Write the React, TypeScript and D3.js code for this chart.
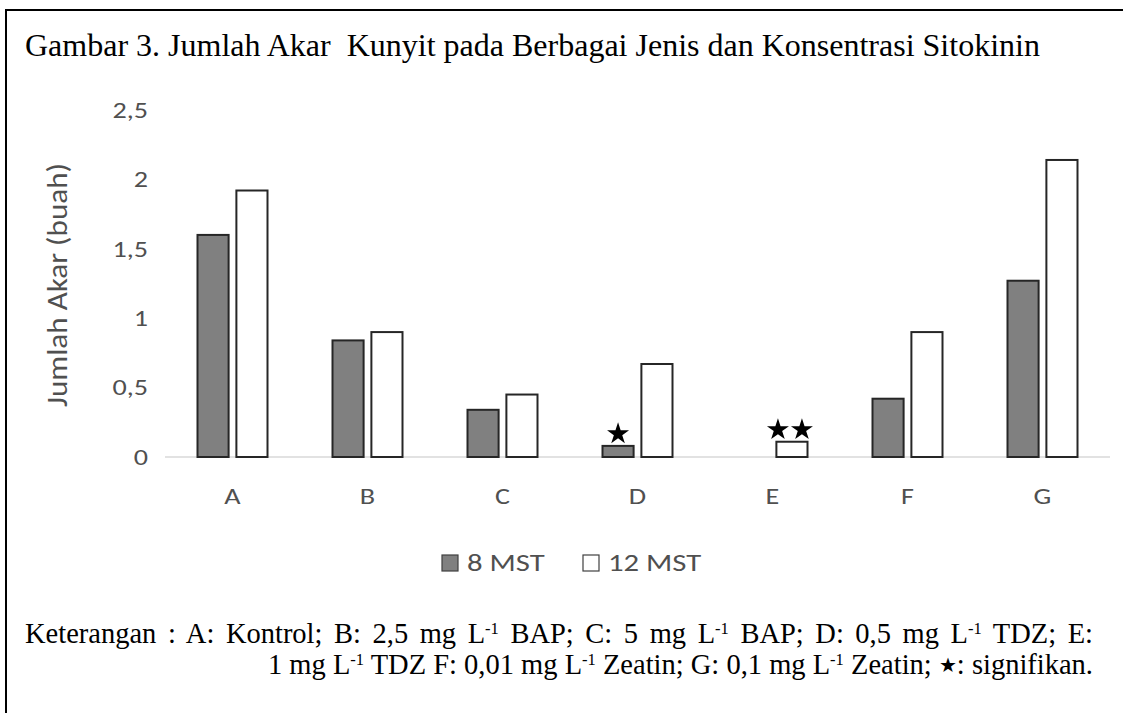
import { useEffect, useRef } from 'react';
import * as d3 from 'd3';

// perlakuan (treatments) on the x axis
const categories = ['A', 'B', 'C', 'D', 'E', 'F', 'G'];
const seriesNames = ['8 MST', '12 MST'];
// jumlah akar per treatment
const mst8 = [1.6, 0.84, 0.34, 0.08, 0, 0.42, 1.27];
const mst12 = [1.92, 0.9, 0.45, 0.67, 0.11, 0.9, 2.14];
const yTicks = [0, 0.5, 1, 1.5, 2, 2.5];
// significance stars: category, series index, number of stars
const starCats = ['D', 'E'];
const starSeries = [0, 1];
const starCounts = [1, 2];

const seriesFill = ['#808080', '#ffffff'];
const titleText = 'Gambar 3. Jumlah Akar\u00a0\u00a0Kunyit pada Berbagai Jenis dan Konsentrasi Sitokinin';

const App = () => {
  const svgRef = useRef<SVGSVGElement>(null);

  useEffect(() => {
    const svg = d3.select(svgRef.current);
    svg.selectAll('*').remove();

    const W = 1123;
    const H = 713;
    const sans = 'Calibri, Carlito, Lato, sans-serif';
    const serif = '"Times New Roman", "Liberation Serif", serif';
    const textGrey = '#505050';
    const sx = 1.28; // chart picture is stretched sideways in the source

    svg.append('rect').attr('width', W).attr('height', H).attr('fill', '#fff');

    // frame around figure (cropped on right/bottom)
    svg.append('path')
      .attr('d', `M${W + 5},10 H6 V${H + 5}`)
      .attr('fill', 'none')
      .attr('stroke', '#000')
      .attr('stroke-width', 2);

    svg.append('text')
      .attr('x', 25)
      .attr('y', 56)
      .style('font-family', serif)
      .style('font-size', '32px')
      .attr('fill', '#000')
      .text(titleText);

    // scales
    const x0 = d3.scaleBand().domain(categories).range([165, 1110]);
    const bw = x0.bandwidth();
    const x1 = d3.scaleBand()
      .domain(seriesNames)
      .range([bw / 2 - 35, bw / 2 + 35])
      .paddingInner(0.2);
    const y = d3.scaleLinear().domain([0, 2.5]).range([457, 110]);

    // baseline
    svg.append('line')
      .attr('x1', 165).attr('x2', 1110)
      .attr('y1', y(0)).attr('y2', y(0))
      .attr('stroke', '#d9d9d9')
      .attr('stroke-width', 1.5);

    // y tick labels
    svg.append('g')
      .selectAll('text')
      .data(yTicks)
      .enter()
      .append('text')
      .attr('transform', d => `translate(148,${y(d)}) scale(${sx},1)`)
      .attr('dy', '0.35em')
      .attr('text-anchor', 'end')
      .style('font-family', sans)
      .style('font-size', '22px')
      .attr('fill', textGrey)
      .text(d => d3.format('')(d).replace('.', ','));

    // category labels
    svg.append('g')
      .selectAll('text')
      .data(categories)
      .enter()
      .append('text')
      .attr('transform', d => `translate(${(x0(d) as number) + bw / 2},496) scale(${sx},1)`)
      .attr('dy', '0.35em')
      .attr('text-anchor', 'middle')
      .style('font-family', sans)
      .style('font-size', '22px')
      .attr('fill', textGrey)
      .text(d => d);

    // y axis title
    svg.append('text')
      .attr('transform', `translate(67,285) rotate(-90) scale(1,${sx})`)
      .attr('text-anchor', 'middle')
      .attr('textLength', 244)
      .attr('lengthAdjust', 'spacingAndGlyphs')
      .style('font-family', sans)
      .style('font-size', '23px')
      .attr('fill', textGrey)
      .text('Jumlah Akar (buah)');

    // bars
    const rows = categories.map((c, i) => ({ cat: c, vals: [mst8[i], mst12[i]] }));
    const groups = svg.append('g')
      .selectAll('g')
      .data(rows)
      .enter()
      .append('g')
      .attr('transform', d => `translate(${x0(d.cat)},0)`);

    groups.selectAll('rect')
      .data(d => d.vals.map((v, j) => ({ v, j })).filter(e => e.v > 0))
      .enter()
      .append('rect')
      .attr('x', d => x1(seriesNames[d.j]) as number)
      .attr('y', d => y(d.v))
      .attr('width', x1.bandwidth())
      .attr('height', d => y(0) - y(d.v))
      .attr('fill', d => seriesFill[d.j])
      .attr('stroke', '#262626')
      .attr('stroke-width', 2);

    // significance stars
    const star = d3.symbol().type(d3.symbolStar).size(150);
    starCats.forEach((c, k) => {
      const j = starSeries[k];
      const idx = categories.indexOf(c);
      const v = j === 0 ? mst8[idx] : mst12[idx];
      const cx = (x0(c) as number) + (x1(seriesNames[j]) as number) + x1.bandwidth() / 2;
      const n = starCounts[k];
      for (let s = 0; s < n; s++) {
        const off = (s - (n - 1) / 2) * 24 - (n > 1 ? 2 : 0);
        svg.append('path')
          .attr('d', star() as string)
          .attr('transform', `translate(${cx + off},${y(v) - 12})`)
          .attr('fill', '#000');
      }
    });

    // legend
    const legend = svg.append('g').attr('transform', 'translate(441,554)');
    const legX = [0, 141];
    seriesNames.forEach((name, j) => {
      legend.append('rect')
        .attr('x', legX[j] + 1)
        .attr('y', 1)
        .attr('width', 16)
        .attr('height', 16)
        .attr('fill', seriesFill[j])
        .attr('stroke', '#404040')
        .attr('stroke-width', 1.2);
      legend.append('text')
        .attr('transform', `translate(${legX[j] + 26},9) scale(${sx},1)`)
        .attr('dy', '0.35em')
        .style('font-family', sans)
        .style('font-size', '24px')
        .attr('fill', textGrey)
        .text(name);
    });

    // keterangan (footnote)
    const fs = 28.5;
    const right = 1093;
    const line1 = svg.append('text')
      .attr('x', 25)
      .attr('y', 643)
      .style('font-family', serif)
      .style('font-size', `${fs}px`)
      .attr('fill', '#000');
    const sup = (t: d3.Selection<SVGTextElement, unknown, null, undefined>, s: string, after: string) => {
      t.append('tspan').attr('dy', -fs * 0.33).style('font-size', `${fs * 0.58}px`).text(s);
      t.append('tspan').attr('dy', fs * 0.33).text(after);
    };
    line1.append('tspan').text('Keterangan : A: Kontrol; B: 2,5 mg L');
    sup(line1, '-1', ' BAP; C: 5 mg L');
    sup(line1, '-1', ' BAP; D: 0,5 mg L');
    sup(line1, '-1', ' TDZ; E:');

    // justify first line to the right margin
    const node = line1.node() as SVGTextElement;
    const target = right - 25;
    const len = node.getComputedTextLength();
    const nSpaces = (node.textContent || '').split(' ').length - 1;
    if (nSpaces > 0 && len < target) {
      line1.style('word-spacing', `${(target - len) / nSpaces}px`);
    }

    const line2 = svg.append('text')
      .attr('x', right)
      .attr('y', 674)
      .attr('text-anchor', 'end')
      .style('font-family', serif)
      .style('font-size', `${fs}px`)
      .attr('fill', '#000');
    line2.append('tspan').text('1 mg L');
    sup(line2, '-1', ' TDZ F: 0,01 mg L');
    sup(line2, '-1', ' Zeatin; G: 0,1 mg L');
    sup(line2, '-1', ' Zeatin; ');
    line2.append('tspan').style('font-size', `${fs * 0.7}px`).attr('dy', -2).text('\u2605');
    line2.append('tspan').attr('dy', 2).text(': signifikan.');
  }, []);

  return (
    <svg
      ref={svgRef}
      width={1123}
      height={713}
      style={{ position: 'absolute', left: 0, top: 0, display: 'block' }}
    />
  );
};

export default App;
